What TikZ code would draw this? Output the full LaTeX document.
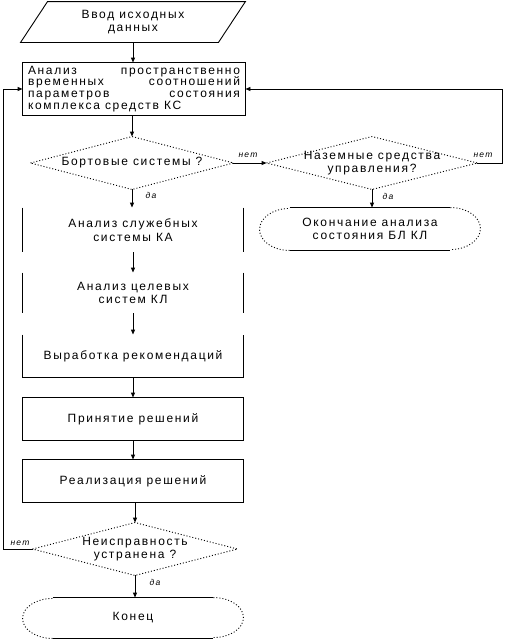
\documentclass[tikz,border=0pt]{standalone}
\usepackage{fontspec}
\setmainfont[LetterSpace=14]{Liberation Sans}
\usetikzlibrary{arrows.meta,calc}
\tikzset{
  box/.style={rectangle, inner sep=0pt, minimum width=220pt, align=center, font=\fontsize{12}{13.5}\selectfont},
  lab/.style={font=\fontsize{8.5}{9}\selectfont\itshape, inner sep=0pt},
  dotline/.style={dash pattern=on 1pt off 2pt},
  arr/.style={-{Triangle[length=5pt,width=4pt]}},
  every path/.style={line width=0.9pt}
}
\begin{document}
\begin{tikzpicture}[x=1pt,y=-1pt]
\useasboundingbox (0,0) rectangle (504,640);
% nodes
\node[box, minimum width=224pt, minimum height=40pt] (pg) at (133,22) {Ввод исходных\\данных};
\node[box, minimum width=222pt, minimum height=52pt, text width=212pt, align=justify,
  font=\fontsize{12}{11.8}\selectfont] (ana) at (134,89)
  {Анализ пространственно временных соотношений параметров состояния комплекса средств КС};
\node[box, minimum width=202pt, minimum height=52pt] (d1) at (132,163) {Бортовые системы ?};
\node[box, minimum width=210pt, minimum height=52pt] (d2) at (372,163) {Наземные средства\\управления?};
\node[box, minimum height=44pt] (b2) at (133,230) {Анализ служебных\\системы КА};
\node[box, minimum height=40pt] (b3) at (133,293) {Анализ целевых\\систем КЛ};
\node[box, minimum height=42pt] (b4) at (133,356) {Выработка рекомендаций};
\node[box, minimum height=42pt] (b5) at (133,419) {Принятие решений};
\node[box, minimum height=42pt] (b6) at (133,481) {Реализация решений};
\node[box, minimum width=204pt, minimum height=52pt] (d3) at (135,549) {Неисправность\\устранена ?};
\node[box, minimum height=40pt] (fin) at (133,618) {Конец};
\node[box, minimum height=42pt] (ok) at (370,229) {Окончание анализа\\состояния БЛ КЛ};
% shapes
\draw ($(pg.north west)+(27,0)$) -- (pg.north east) -- ($(pg.south east)-(27,0)$) -- (pg.south west) -- cycle;
\draw (ana.north west) rectangle (ana.south east);
\draw[dotline] (d1.west) -- (d1.north) -- (d1.east) -- (d1.south) -- cycle;
\draw[dotline] (d2.west) -- (d2.north) -- (d2.east) -- (d2.south) -- cycle;
\draw[dotline] (d3.west) -- (d3.north) -- (d3.east) -- (d3.south) -- cycle;
\draw (b2.north west) -- (b2.south west) (b2.north east) -- (b2.south east);
\draw (b3.north west) -- (b3.south west) (b3.north east) -- (b3.south east);
\draw (b4.north west) -- (b4.south west) -- (b4.south east) -- (b4.north east);
\draw (b5.north west) rectangle (b5.south east);
\draw (b6.north west) rectangle (b6.south east);
\draw ($(fin.north west)+(30,0)$) -- ($(fin.north east)-(30,0)$);
\draw ($(fin.south west)+(30,0)$) -- ($(fin.south east)-(30,0)$);
\draw[dotline] ($(fin.north east)-(30,0)$) arc[start angle=90, end angle=-90, x radius=30pt, y radius=20pt];
\draw[dotline] ($(fin.south west)+(30,0)$) arc[start angle=-90, end angle=-270, x radius=30pt, y radius=20pt];
\draw ($(ok.north west)+(30,0)$) -- ($(ok.north east)-(30,0)$);
\draw ($(ok.south west)+(30,0)$) -- ($(ok.south east)-(30,0)$);
\draw[dotline] ($(ok.north east)-(30,0)$) arc[start angle=90, end angle=-90, x radius=30pt, y radius=21pt];
\draw[dotline] ($(ok.south west)+(30,0)$) arc[start angle=-90, end angle=-270, x radius=30pt, y radius=21pt];
% connectors
\draw[arr] (pg.south) -- (pg.south |- ana.north);
\draw[arr] (ana.south -| d1.north) -- (d1.north);
\draw[arr] (d1.south) -- (d1.south |- b2.north);
\draw[arr] (b2.south -| b3.north) -- (b3.north);
\draw[arr] (b3.south) -- (b4.north);
\draw[arr] (b4.south) -- (b5.north);
\draw[arr] (b5.south) -- (b6.north);
\draw[arr] (b6.south -| d3.north) -- (d3.north);
\draw[arr] (d3.south) -- (d3.south |- fin.north);
\draw[arr] (d1.east) -- (d2.west);
\draw[arr] (d2.south) -- (d2.south |- ok.north);
\coordinate (rc) at (502,89);
\coordinate (lc) at (3,549);
\draw[arr] (d2.east) -| (rc) -- (ana.east);
\draw[arr] (d3.west) -- (lc) |- (ana.west);
% labels
\node[lab] (l1) at (248,155) {нет};
\node[lab] (l2) at (483,155) {нет};
\node[lab] (l3) at (151,195) {да};
\node[lab] (l4) at (388,196) {да};
\node[lab] (l5) at (20,543) {нет};
\node[lab] (l6) at (155,582) {да};
\end{tikzpicture}
\end{document}
